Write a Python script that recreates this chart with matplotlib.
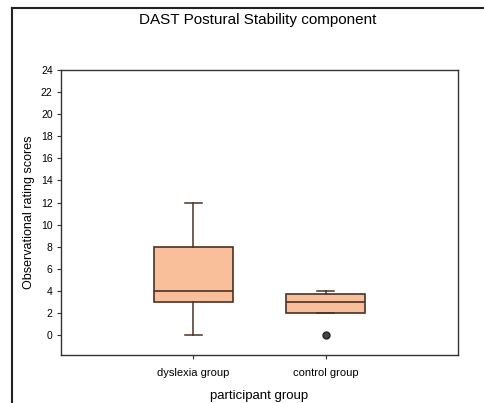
import matplotlib.pyplot as plt
from matplotlib.lines import Line2D

plt.rcParams['font.family'] = ['Liberation Sans', 'DejaVu Sans']

groups = ['dyslexia group', 'control group']
whisker_low = [0, 2]
q1 = [3, 2]
median = [4, 3]
q3 = [8, 3.75]
whisker_high = [12, 4]
outliers = [[], [0]]
yticks = list(range(0, 25, 2))

stats = []
for i, g in enumerate(groups):
    stats.append({'label': g, 'whislo': whisker_low[i], 'q1': q1[i], 'med': median[i],
                  'q3': q3[i], 'whishi': whisker_high[i], 'fliers': outliers[i]})

edge = '#4a3226'
fig = plt.figure(figsize=(4.85, 4.03), dpi=100)
ax = fig.add_axes([61 / 485, 48 / 403, 397 / 485, 285 / 403])

ax.bxp(stats, positions=[1, 2], widths=0.6, patch_artist=True,
       boxprops=dict(facecolor='#f8bf9a', edgecolor=edge, linewidth=1.2),
       medianprops=dict(color=edge, linewidth=1.2),
       whiskerprops=dict(color=edge, linewidth=1.1),
       capprops=dict(color=edge, linewidth=1.1),
       capwidths=0.13,
       flierprops=dict(marker='o', markerfacecolor='#444444', markeredgecolor='#222222',
                       markersize=5))

ax.set_xlim(0, 3)
ax.set_ylim(-1.8, 24)
ax.set_yticks(yticks)
ax.tick_params(axis='y', labelsize=7.5, length=3, width=0.8, color='#333333', pad=3)
ax.tick_params(axis='x', labelsize=8, length=3, width=0.8, color='#333333', pad=6)
for s in ax.spines.values():
    s.set_linewidth(1.0)
    s.set_color('#333333')

ax.set_ylabel('Observational rating scores', fontsize=9, labelpad=4)
ax.set_xlabel('participant group', fontsize=9.5, labelpad=9)
fig.text(258 / 485, 1 - 20 / 403, 'DAST Postural Stability component', fontsize=11,
         ha='center', va='center')

# outer frame, open at right and bottom
fig.add_artist(Line2D([12 / 485, 12 / 485], [0, 1 - 8 / 403], transform=fig.transFigure,
                      color='#222222', linewidth=1.5))
fig.add_artist(Line2D([12 / 485, 1], [1 - 8 / 403, 1 - 8 / 403], transform=fig.transFigure,
                      color='#222222', linewidth=1.5))

fig.savefig('out.png', dpi=100)
